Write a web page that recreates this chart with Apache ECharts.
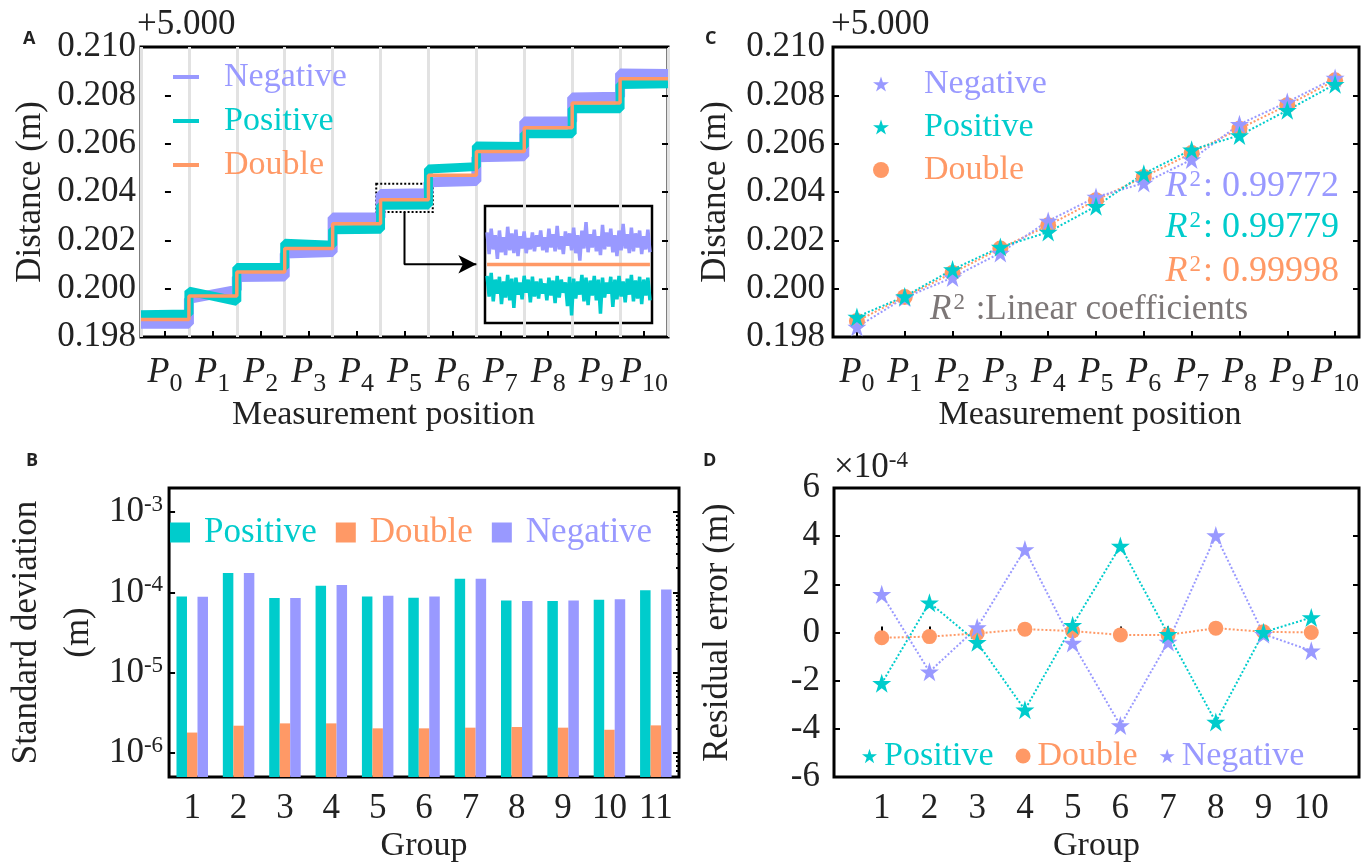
<!DOCTYPE html>
<html>
<head>
<meta charset="utf-8">
<script src="https://cdn.jsdelivr.net/npm/echarts@6/dist/echarts.min.js"></script>
<style>
  html, body { margin: 0; background: #fff; }
  #chart { width: 1371px; height: 864px; }
</style>
</head>
<body>
<div id="chart"></div>
<script>
const TEAL = '#00CCCC', ORANGE = '#FF9966', PURPLE = '#9999FF', INK = '#222';
const SERIF = "'Liberation Serif', 'Times New Roman', serif";
const STAR = 'path://M50,0L61.2,34.5L97.6,34.5L68.2,55.9L79.4,90.5L50,69.1L20.6,90.5L31.8,55.9L2.4,34.5L38.8,34.5Z';

// ---- data ----
const positions = ['0', '1', '2', '3', '4', '5', '6', '7', '8', '9', '10'];

// panel A: plateau level at start / end of every position (m, minus 5 m)
const aNegative = [[0.19855, 0.19855], [0.19958, 0.19995], [0.20048, 0.20050], [0.20146, 0.20152],
  [0.20294, 0.20294], [0.20392, 0.20395], [0.20440, 0.20445], [0.20544, 0.20548],
  [0.20692, 0.20692], [0.20791, 0.20794], [0.20890, 0.20888]];
const aPositive = [[0.19892, 0.19895], [0.19990, 0.19948], [0.20088, 0.20088], [0.20188, 0.20180],
  [0.20244, 0.20246], [0.20345, 0.20346], [0.20495, 0.20505], [0.20590, 0.20588],
  [0.20641, 0.20641], [0.20745, 0.20745], [0.20845, 0.20848]];
const aDouble = [0.19872, 0.19970, 0.20069, 0.20166, 0.20269, 0.20368, 0.20469, 0.20568, 0.20666, 0.20768, 0.20869];

// inset of P5, deviation from the double mean (x1e-4 m)
const insetNeg = [3.4, 1.1, 3.8, 1.6, 3.1, 0.6, 3.6, 1.3, 2.9, 1.0, 4.0, 1.5, 3.3, 1.2, 3.7, 0.9, 3.0, 1.7, 3.5, 1.2,
  2.8, 1.6, 3.4, 1.4, 3.1, 1.9, 3.6, 1.5, 2.9, 1.3, 3.8, 1.8, 3.2, 1.4, 4.1, 1.6, 3.0, 1.1, 3.5, 2.0,
  3.3, 1.5, 3.9, 1.2, 3.1, 0.4, 3.6, 1.7, 4.5, 1.3, 3.2, 1.8, 3.7, 1.4, 3.0, 1.0, 4.2, 1.6, 3.4, 1.9,
  3.8, 1.3, 3.1, 0.9, 3.6, 1.5, 4.3, 1.7, 3.2, 1.2, 3.9, 1.4, 3.3, 1.8, 3.6, 1.1, 3.0, 1.6, 3.7, 1.3];
const insetPos = [-1.2, -3.4, -0.9, -3.9, -1.6, -3.1, -1.3, -4.2, -1.8, -3.5, -1.1, -3.8, -1.5, -4.6, -1.4, -3.2, -1.9, -3.7, -1.2, -3.0,
  -1.6, -4.0, -1.3, -3.4, -1.8, -3.6, -1.5, -3.1, -2.0, -3.8, -1.4, -3.3, -1.7, -4.1, -1.2, -3.5, -1.6, -3.0, -1.9, -4.4,
  -1.3, -5.4, -1.5, -3.6, -1.8, -3.2, -1.1, -3.9, -1.4, -4.3, -1.7, -3.3, -1.2, -3.8, -1.6, -5.2, -1.4, -3.5, -1.9, -3.1,
  -1.3, -4.5, -1.6, -3.7, -1.2, -3.4, -1.8, -4.0, -1.5, -3.2, -1.1, -3.9, -1.7, -3.6, -1.3, -4.2, -1.6, -3.3, -1.4, -3.8];
const insetDbl = [0.0, 0.0];

// panel B: standard deviation (m)
const groupsB = ['1', '2', '3', '4', '5', '6', '7', '8', '9', '10', '11'];
const bPositive = [8.9e-5, 1.74e-4, 8.5e-5, 1.21e-4, 8.9e-5, 8.6e-5, 1.48e-4, 7.9e-5, 7.8e-5, 8.1e-5, 1.06e-4];
const bDouble = [1.79e-6, 2.18e-6, 2.33e-6, 2.33e-6, 2.02e-6, 2.02e-6, 2.06e-6, 2.1e-6, 2.06e-6, 1.94e-6, 2.2e-6];
const bNegative = [8.8e-5, 1.75e-4, 8.5e-5, 1.24e-4, 9.1e-5, 8.9e-5, 1.48e-4, 7.8e-5, 7.9e-5, 8.2e-5, 1.09e-4];
const bMinorTicks = [6e-7, 7e-7, 8e-7, 9e-7, 2e-6, 3e-6, 4e-6, 5e-6, 6e-6, 7e-6, 8e-6, 9e-6,
  2e-5, 3e-5, 4e-5, 5e-5, 6e-5, 7e-5, 8e-5, 9e-5, 2e-4, 3e-4, 4e-4, 5e-4, 6e-4, 7e-4, 8e-4, 9e-4, 2e-3];

// panel C: mean distance per position
const cNegative = [0.19841, 0.19963, 0.20046, 0.20148, 0.20280, 0.20379, 0.20437, 0.20534, 0.20680, 0.20772, 0.20872];
const cPositive = [0.19883, 0.19968, 0.20079, 0.20172, 0.20234, 0.20341, 0.20476, 0.20575, 0.20634, 0.20738, 0.20846];
const cDouble = [0.19866, 0.19966, 0.20065, 0.20166, 0.20262, 0.20366, 0.20462, 0.20561, 0.20662, 0.20759, 0.20862];

// panel D: residual error (x1e-4 m)
const groupsD = [1, 2, 3, 4, 5, 6, 7, 8, 9, 10];
const dPositive = [-2.11, 1.24, -0.41, -3.21, 0.30, 3.59, -0.07, -3.72, 0.01, 0.62];
const dDouble = [-0.22, -0.17, -0.04, 0.14, 0.06, -0.10, -0.10, 0.18, 0.03, 0.0];
const dNegative = [1.59, -1.63, 0.21, 3.45, -0.44, -3.86, -0.39, 4.03, -0.07, -0.76];

// ---- helpers ----
function steps(levels) {
  const pts = [];
  levels.forEach((lv, k) => {
    const a = Array.isArray(lv) ? lv[0] : lv, b = Array.isArray(lv) ? lv[1] : lv;
    pts.push([k - 0.5, a], [k + 0.5, b]);
  });
  return pts;
}

const tickStyle = { show: true, inside: true, length: 6, lineStyle: { color: '#000', width: 2 } };
const bigText = { fontFamily: SERIF, fontSize: 34, color: INK };
const tickText = { fontFamily: SERIF, fontSize: 35, color: INK };
const pLabel = {
  ...tickText, margin: 12, interval: 0,
  formatter: v => '{p|P}{s|' + v + '}',
  rich: {
    p: { fontFamily: SERIF, fontStyle: 'italic', fontSize: 36, color: INK },
    s: { fontFamily: SERIF, fontSize: 26, color: INK, verticalAlign: 'bottom', padding: [22, 0, 0, 0] }
  }
};
const letterFont = 'bold 18px "Open Sans", "DejaVu Sans", sans-serif';

function sideAxis(grid, extra) {
  return Object.assign({
    gridIndex: grid, position: 'right', axisLine: { show: false },
    axisLabel: { show: false }, axisTick: tickStyle, splitLine: { show: false }
  }, extra);
}

function vTitle(text, x, y) {
  return { type: 'text', x: x, y: y, rotation: Math.PI / 2,
    style: { text: text, font: '35px ' + SERIF, fill: INK, align: 'center', verticalAlign: 'middle' } };
}

const myChart = echarts.init(document.getElementById('chart'));

const option = {
  animation: false,
  backgroundColor: '#fff',
  textStyle: { fontFamily: SERIF },
  grid: [
    { left: 141, top: 47, width: 527, height: 290, show: true, borderColor: '#000', borderWidth: 3 },
    { left: 152, top: 488, width: 527, height: 290, show: true, borderColor: '#000', borderWidth: 3 },
    { left: 833, top: 47, width: 526, height: 290, show: true, borderColor: '#000', borderWidth: 3 },
    { left: 834, top: 488, width: 525, height: 290, show: true, borderColor: '#000', borderWidth: 3 },
    { left: 485, top: 206, width: 167, height: 117, show: true, borderColor: '#000', borderWidth: 2.5 }
  ],
  xAxis: [
    { type: 'category', gridIndex: 0, data: positions, axisLine: { show: false },
      axisTick: { ...tickStyle, alignWithLabel: true, interval: 0 }, axisLabel: pLabel,
      splitLine: { show: true, interval: 0, lineStyle: { color: '#e2e2e2', width: 3 } },
      name: 'Measurement position', nameLocation: 'middle', nameGap: 50,
      nameTextStyle: { ...bigText, padding: [0, 42, 0, 0] } },
    { type: 'value', gridIndex: 0, min: -0.5, max: 10.5, show: false },
    { type: 'category', gridIndex: 1, data: groupsB, axisLine: { show: false },
      axisTick: { ...tickStyle, alignWithLabel: true, interval: 0 }, axisLabel: { ...tickText, margin: 14, interval: 0 },
      name: 'Group', nameLocation: 'middle', nameGap: 52, nameTextStyle: bigText },
    { type: 'category', gridIndex: 2, data: positions, axisLine: { show: false },
      axisTick: { ...tickStyle, alignWithLabel: true, interval: 0 }, axisLabel: pLabel,
      name: 'Measurement position', nameLocation: 'middle', nameGap: 50,
      nameTextStyle: { ...bigText, padding: [0, 12, 0, 0] } },
    { type: 'value', gridIndex: 3, min: 0, max: 11, interval: 1, axisLine: { show: false },
      axisTick: tickStyle, splitLine: { show: false },
      axisLabel: { ...tickText, margin: 14, formatter: v => (v >= 1 && v <= 10) ? String(v) : '' },
      name: 'Group', nameLocation: 'middle', nameGap: 52, nameTextStyle: bigText },
    { type: 'value', gridIndex: 4, min: -1, max: 80, show: false }
  ],
  yAxis: [
    { type: 'value', gridIndex: 0, min: 0.198, max: 0.210, interval: 0.002, axisLine: { show: false },
      axisTick: tickStyle, splitLine: { show: false },
      axisLabel: { ...tickText, margin: 5, formatter: v => v.toFixed(3) } },
    sideAxis(0, { type: 'value', min: 0.198, max: 0.210, interval: 0.002 }),
    { type: 'log', logBase: 10, gridIndex: 1, min: 5e-7, max: 2e-3, startValue: 5e-7, axisLine: { show: false },
      axisTick: tickStyle, splitLine: { show: false },
      axisLabel: { ...tickText, margin: 6,
        formatter: v => {
          const e = Math.log10(v);
          if (Math.abs(e - Math.round(e)) > 1e-6) return '';
          return '{b|10}{e|' + Math.round(e) + '}';
        },
        rich: {
          b: { fontFamily: SERIF, fontSize: 35, color: INK },
          e: { fontFamily: SERIF, fontSize: 23, color: INK, verticalAlign: 'top', padding: [0, 0, 14, 0] }
        } },
      name: 'Standard deviation\n(m)', nameLocation: 'middle', nameGap: 47,
      nameTextStyle: { ...bigText, fontSize: 35, lineHeight: 52 } },
    sideAxis(1, { type: 'log', logBase: 10, min: 5e-7, max: 2e-3 }),
    { type: 'log', logBase: 10, gridIndex: 1, min: 5e-7, max: 2e-3, axisLine: { show: false },
      axisLabel: { show: false }, splitLine: { show: false },
      axisTick: { ...tickStyle, length: 3, customValues: bMinorTicks } },
    sideAxis(1, { type: 'log', logBase: 10, min: 5e-7, max: 2e-3,
      axisTick: { ...tickStyle, length: 3, customValues: bMinorTicks } }),
    { type: 'value', gridIndex: 2, min: 0.198, max: 0.210, interval: 0.002, axisLine: { show: false },
      axisTick: tickStyle, splitLine: { show: false },
      axisLabel: { ...tickText, margin: 8, formatter: v => v.toFixed(3) } },
    sideAxis(2, { type: 'value', min: 0.198, max: 0.210, interval: 0.002 }),
    { type: 'value', gridIndex: 3, min: -6, max: 6, interval: 2, axisLine: { show: false },
      axisTick: tickStyle, splitLine: { show: false },
      axisLabel: { ...tickText, margin: 14 },
      name: 'Residual error (m)', nameLocation: 'middle', nameGap: 99, nameTextStyle: { ...bigText, fontSize: 35 } },
    sideAxis(3, { type: 'value', min: -6, max: 6, interval: 2 }),
    { type: 'value', gridIndex: 4, min: -6.2, max: 6.2, show: false }
  ],
  legend: [
    { orient: 'vertical', left: 168, top: 55, itemWidth: 26, itemHeight: 4, itemGap: 10, icon: 'rect',
      textStyle: { fontFamily: SERIF, fontSize: 34, padding: [0, 0, 0, 20] },
      data: [{ name: 'Negative', textStyle: { color: PURPLE } }, { name: 'Positive', textStyle: { color: TEAL } },
        { name: 'Double', textStyle: { color: ORANGE } }] },
    { orient: 'horizontal', left: 165, top: 510, itemWidth: 20, itemHeight: 20, itemGap: 19, icon: 'rect',
      textStyle: { fontFamily: SERIF, fontSize: 35, padding: [0, 0, 0, 9] },
      data: [{ name: 'Positive', textStyle: { color: TEAL } }, { name: 'Double', textStyle: { color: ORANGE } },
        { name: 'Negative', textStyle: { color: PURPLE } }] },
    { orient: 'vertical', left: 868, top: 62, itemWidth: 16, itemHeight: 16, itemGap: 9,
      textStyle: { fontFamily: SERIF, fontSize: 34, padding: [0, 0, 0, 30] },
      data: [{ name: 'Negative', icon: STAR, textStyle: { color: PURPLE } },
        { name: 'Positive', icon: STAR, textStyle: { color: TEAL } },
        { name: 'Double', icon: 'circle', textStyle: { color: ORANGE } }] },
    { orient: 'horizontal', left: 857, top: 734, itemWidth: 15, itemHeight: 15, itemGap: 22,
      textStyle: { fontFamily: SERIF, fontSize: 34, padding: [0, 0, 0, 2] },
      data: [{ name: 'Positive', icon: STAR, textStyle: { color: TEAL } },
        { name: 'Double', icon: 'circle', textStyle: { color: ORANGE } },
        { name: 'Negative', icon: STAR, textStyle: { color: PURPLE } }] }
  ],
  graphic: [
    { type: 'text', left: 23, top: 30, style: { text: 'A', font: letterFont, fill: '#222' } },
    { type: 'text', left: 26, top: 452, style: { text: 'B', font: letterFont, fill: '#222' } },
    { type: 'text', left: 705, top: 30, style: { text: 'C', font: letterFont, fill: '#222' } },
    { type: 'text', left: 703, top: 452, style: { text: 'D', font: letterFont, fill: '#222' } },
    vTitle('Distance (m)', 31, 192),
    vTitle('Distance (m)', 716, 192),
    { type: 'text', left: 137, top: 7, style: { text: '+5.000', font: '35px ' + SERIF, fill: INK } },
    { type: 'text', left: 831, top: 7, style: { text: '+5.000', font: '35px ' + SERIF, fill: INK } },
    { type: 'text', left: 834, top: 449, style: {
      text: '{a|\u00d710}{b|-4}', fill: INK,
      rich: { a: { fontFamily: SERIF, fontSize: 35, fill: INK },
        b: { fontFamily: SERIF, fontSize: 23, fill: INK, verticalAlign: 'top', padding: [0, 0, 14, 0] } } } },
    ...[['0.99772', PURPLE, 168], ['0.99779', TEAL, 209], ['0.99998', ORANGE, 253]].map(([r, c, t]) => ({
      type: 'text', right: 32, top: t, style: {
        text: '{r|R}{s|2}{t|: ' + r + '}',
        rich: { r: { fontFamily: SERIF, fontStyle: 'italic', fontSize: 36, fill: c },
          s: { fontFamily: SERIF, fontSize: 23, fill: c, verticalAlign: 'top', padding: [0, 2, 14, 2] },
          t: { fontFamily: SERIF, fontSize: 36, fill: c } } } })),
    { type: 'text', left: 930, top: 291, style: {
      text: '{r|R}{s|2}{t| :Linear coefficients}',
      rich: { r: { fontFamily: SERIF, fontStyle: 'italic', fontSize: 35, fill: '#7d7777' },
        s: { fontFamily: SERIF, fontSize: 23, fill: '#7d7777', verticalAlign: 'top', padding: [0, 2, 14, 2] },
        t: { fontFamily: SERIF, fontSize: 35, fill: '#7d7777' } } } }
  ],
  series: [
    // A
    { name: 'Negative', type: 'line', xAxisIndex: 1, yAxisIndex: 0, data: steps(aNegative), symbol: 'none',
      color: PURPLE, lineStyle: { color: PURPLE, width: 10 } },
    { name: 'Positive', type: 'line', xAxisIndex: 1, yAxisIndex: 0, data: steps(aPositive), symbol: 'none',
      color: TEAL, lineStyle: { color: TEAL, width: 9 } },
    { name: 'Double', type: 'line', xAxisIndex: 1, yAxisIndex: 0, data: steps(aDouble), symbol: 'none',
      color: ORANGE, lineStyle: { color: ORANGE, width: 3.5 } },
    { name: 'zoom', type: 'line', xAxisIndex: 1, yAxisIndex: 0, symbol: 'none', showSymbol: true, z: 6,
      lineStyle: { color: '#000', width: 2 },
      data: [[5, 0.20317], [5, 0.20101],
        { value: [6.5, 0.20101], symbol: 'arrow', symbolSize: [14, 18], symbolRotate: -90, itemStyle: { color: '#000' } }],
      markArea: { silent: true, itemStyle: { color: 'rgba(0,0,0,0)', borderColor: '#000', borderWidth: 2, borderType: 'dotted' },
        data: [[{ coord: [4.41, 0.20434] }, { coord: [5.59, 0.20317] }]] } },
    // inset
    { name: 'insetNeg', type: 'line', xAxisIndex: 5, yAxisIndex: 10, symbol: 'none',
      data: insetNeg.map((v, i) => [i, v]), lineStyle: { color: PURPLE, width: 3.5 } },
    { name: 'insetPos', type: 'line', xAxisIndex: 5, yAxisIndex: 10, symbol: 'none',
      data: insetPos.map((v, i) => [i, v]), lineStyle: { color: TEAL, width: 3.5 } },
    { name: 'insetDbl', type: 'line', xAxisIndex: 5, yAxisIndex: 10, symbol: 'none',
      data: [[0, insetDbl[0]], [insetNeg.length - 1, insetDbl[1]]], lineStyle: { color: ORANGE, width: 3.5 } },
    // B
    { name: 'Positive', type: 'bar', xAxisIndex: 2, yAxisIndex: 2, data: bPositive, barWidth: 10.5, barGap: '0%', color: TEAL },
    { name: 'Double', type: 'bar', xAxisIndex: 2, yAxisIndex: 2, data: bDouble, barWidth: 10.5, barGap: '0%', color: ORANGE },
    { name: 'Negative', type: 'bar', xAxisIndex: 2, yAxisIndex: 2, data: bNegative, barWidth: 10.5, barGap: '0%', color: PURPLE },
    // C
    { name: 'Double', type: 'line', xAxisIndex: 3, yAxisIndex: 6, data: cDouble, symbol: 'circle', symbolSize: 16,
      color: ORANGE, lineStyle: { color: ORANGE, width: 2, type: 'dotted' } },
    { name: 'Negative', type: 'line', xAxisIndex: 3, yAxisIndex: 6, data: cNegative, symbol: STAR, symbolSize: 19,
      color: PURPLE, lineStyle: { color: PURPLE, width: 2, type: 'dotted' } },
    { name: 'Positive', type: 'line', xAxisIndex: 3, yAxisIndex: 6, data: cPositive, symbol: STAR, symbolSize: 19,
      color: TEAL, lineStyle: { color: TEAL, width: 2, type: 'dotted' } },
    // D
    { name: 'Double', type: 'line', xAxisIndex: 4, yAxisIndex: 8, data: groupsD.map((g, i) => [g, dDouble[i]]),
      symbol: 'circle', symbolSize: 15, color: ORANGE, lineStyle: { color: ORANGE, width: 2, type: 'dotted' } },
    { name: 'Negative', type: 'line', xAxisIndex: 4, yAxisIndex: 8, data: groupsD.map((g, i) => [g, dNegative[i]]),
      symbol: STAR, symbolSize: 19, color: PURPLE, lineStyle: { color: PURPLE, width: 2, type: 'dotted' } },
    { name: 'Positive', type: 'line', xAxisIndex: 4, yAxisIndex: 8, data: groupsD.map((g, i) => [g, dPositive[i]]),
      symbol: STAR, symbolSize: 19, color: TEAL, lineStyle: { color: TEAL, width: 2, type: 'dotted' } }
  ]
};

option && myChart.setOption(option);
</script>
</body>
</html>
